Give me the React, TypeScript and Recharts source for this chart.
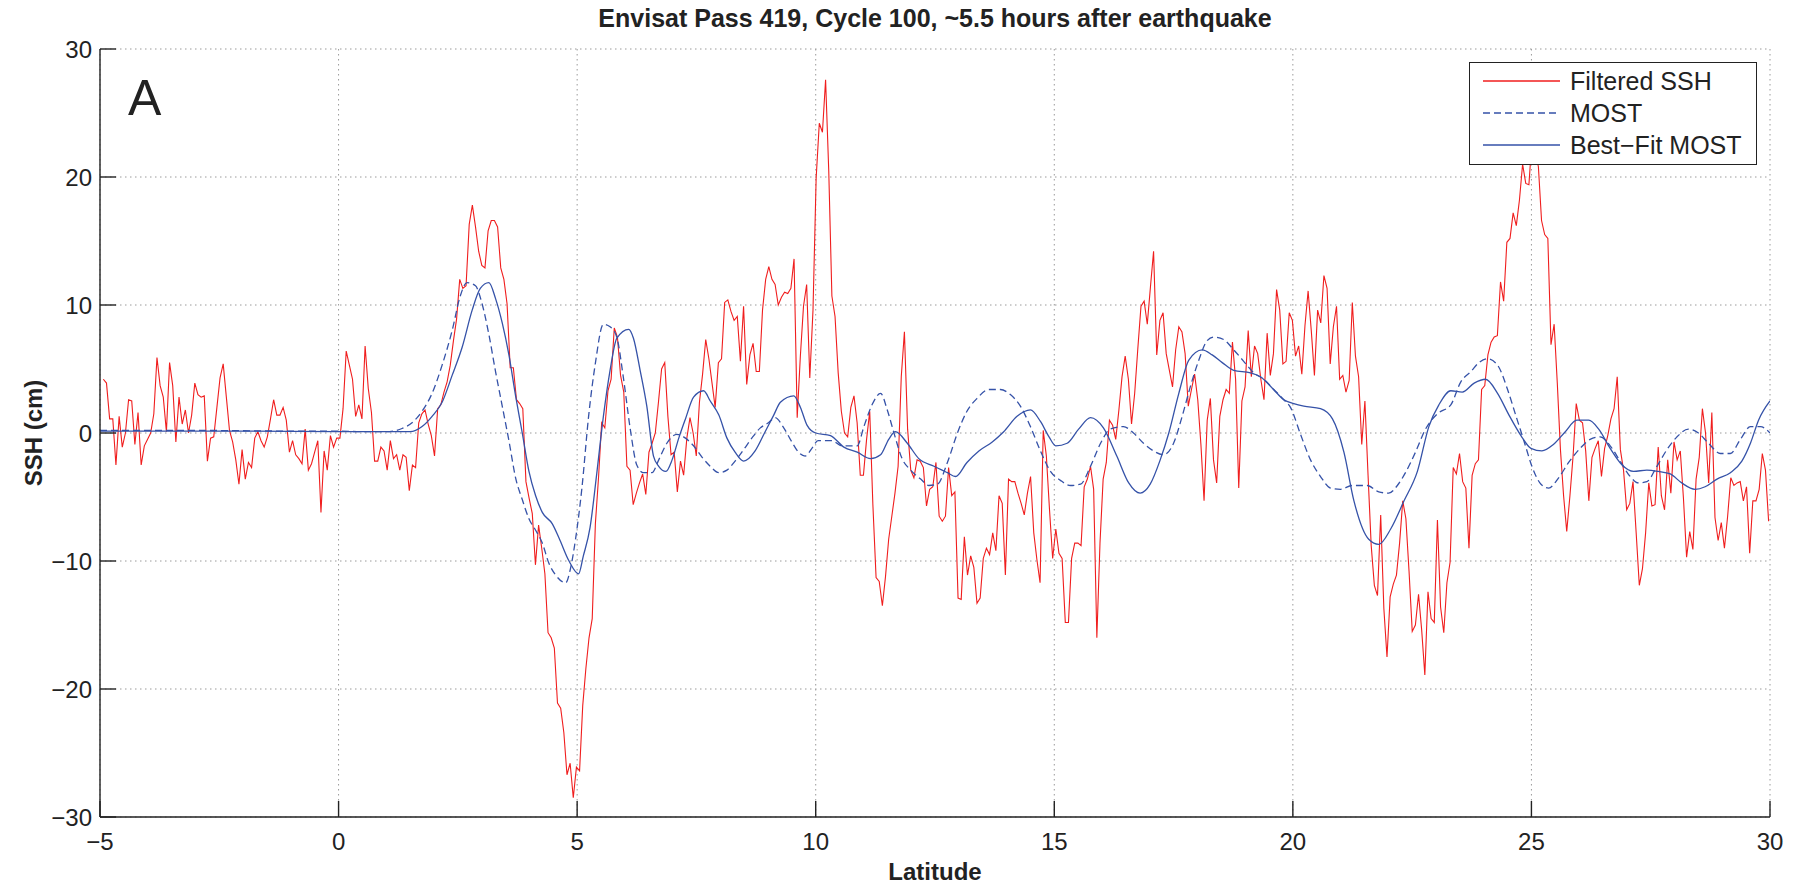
import { LineChart, Line, XAxis, YAxis, CartesianGrid, Legend } from 'recharts'

// along-track samples of the filtered SSH, evenly spaced in latitude
const SSH_START = -4.93
const SSH_STEP = 0.0661

const filteredSSH = [
  // -5 .. 0
  4.2, 3.9, 1.1, 1.1, -2.5, 1.3, -1.1, 0, 2.6, 2.5,
  -0.9, 1.6, -2.5, -1.0, -0.5, 0, 1.5, 5.9, 3.7, 2.8,
  0.1, 5.5, 3.7, -0.7, 2.8, 0.7, 1.8, 0, 1.4, 3.9,
  3.0, 2.8, 2.9, -2.2, -0.4, -0.3, 2.0, 4.3, 5.4, 2.8,
  0.2, -0.7, -2.1, -4.0, -1.3, -3.6, -2.3, -2.7, -0.4, 0.1,
  -0.6, -1.1, -0.3, 1.1, 2.6, 1.4, 1.4, 2.0, 1.0, -1.5,
  -0.6, -1.7, -2.0, -2.4, 0.3, -2.9, -2.4, -1.5, -0.6, -6.2,
  -1.4, -2.9, -0.2, -1.1, -0.4, -0.4,
  // 0 .. 5
  1.9, 6.4, 5.3, 4.2, 1.3, 2.2, 1.1, 6.8, 3.5, 1.6,
  -2.2, -2.2, -1.1, -1.4, -2.9, -0.6, -2.0, -1.7, -2.9, -1.7,
  -1.9, -4.5, -2.5, -2.7, 0.8, 1.5, 1.8, 0.7, -0.2, -1.8,
  1.9, 2.2, 3.2, 4.0, 5.3, 7.2, 8.9, 12.0, 11.3, 11.5,
  16.3, 17.8, 16.1, 14.2, 13.1, 12.9, 15.8, 16.6, 16.6, 16.1,
  12.9, 12.0, 10.1, 5.1, 5.1, 2.6, 2.3, 1.9, -3.8, -5.1,
  -6.3, -10.3, -7.2, -9.0, -11.0, -15.6, -16.0, -16.8, -21.1, -21.5,
  -23.4, -26.7, -25.8, -28.5, -26.1, -26.4, -21.3, -18.4,
  // 5 .. 10
  -16.0, -14.5, -7.1, -3.5, 0.8, 0.4, 3.3, 4.2, 8.2, 7.5,
  4.5, 3.2, -2.6, -2.9, -5.6, -4.7, -3.9, -3.2, -4.8, -1.5,
  -0.8, 0, 2.4, 5.0, 5.5, 1.3, -1.7, -1.5, -4.6, -2.2,
  -3.3, -0.4, 1.2, 0, -1.8, 2.4, 4.6, 7.3, 5.8, 3.9,
  2.0, 5.5, 5.8, 10.2, 10.4, 9.5, 8.8, 9.1, 5.6, 9.9,
  3.8, 6.1, 7.0, 4.8, 4.8, 9.6, 12.0, 13.0, 12.0, 11.6,
  10.0, 10.6, 11.0, 10.9, 11.3, 13.6, 1.2, 6.0, 9.9, 11.6,
  4.3, 9.6, 19.9, 24.2, 23.5, 27.6,
  // 10 .. 15
  20.5, 10.7, 9.1, 4.7, 1.7, 0, -0.3, 2.0, 2.9, 0.8,
  -3.3, -3.3, -0.5, 1.7, -5.6, -11.3, -11.6, -13.5, -11.2, -8.3,
  -6.5, -4.7, -2.6, 4.4, 7.9, 0.3, -2.9, -3.5, -2.1, -2.2,
  -2.7, -5.7, -4.4, -4.2, -2.3, -6.5, -6.9, -6.5, -2.7, -4.9,
  -4.6, -12.9, -13.0, -8.1, -11.1, -9.6, -10.5, -13.3, -12.9, -9.8,
  -9.0, -9.5, -7.8, -9.2, -4.9, -5.5, -11.1, -3.6, -3.8, -3.8,
  -4.7, -5.5, -6.4, -4.7, -3.4, -7.8, -9.9, -11.7, 0.2, -1.8,
  -6.0, -9.8, -7.5, -9.4,
  // 15 .. 20
  -9.8, -14.8, -14.8, -9.8, -8.6, -8.6, -8.8, -4.2, -3.6, -2.6,
  -4.4, -16.0, -8.6, -3.6, -2.3, 1.0, 0.6, -0.5, 1.8, 4.4,
  6.0, 4.2, 0.7, 3.1, 6.6, 9.9, 10.3, 8.5, 11.4, 14.2,
  6.1, 8.8, 9.4, 6.2, 4.9, 3.6, 6.5, 8.3, 7.9, 6.2,
  2.1, 3.4, 4.6, 2.6, -0.9, -5.3, 1.0, 2.7, -2.1, -3.9,
  1.3, 2.6, 3.4, 3.1, 7.1, 4.2, -4.3, 2.5, 3.6, 8.0,
  4.4, 6.8, 6.2, 4.2, 2.6, 7.8, 4.5, 6.2, 11.2, 9.6,
  5.4, 5.6, 9.4, 8.8, 6.0, 6.8,
  // 20 .. 25
  4.6, 8.4, 11.1, 8.0, 4.5, 9.6, 8.6, 12.3, 11.3, 5.4,
  8.3, 9.9, 4.2, 4.5, 3.2, 4.1, 10.2, 6.0, 4.4, -0.9,
  2.5, -3.3, -8.8, -11.9, -12.7, -6.4, -13.7, -17.5, -12.8, -11.8,
  -11.1, -8.6, -5.3, -6.7, -10.8, -15.5, -15.0, -12.6, -15.4, -18.9,
  -12.4, -14.5, -14.8, -6.8, -13.6, -15.6, -11.7, -10.1, -2.7, -3.2,
  -1.6, -3.8, -4.3, -9.0, -3.3, -2.4, -2.1, 3.4, 3.7, 6.1,
  7.1, 7.5, 7.6, 11.8, 10.3, 14.9, 15.2, 17.2, 16.2, 18.2,
  21.0, 19.5, 19.4,
  // 25 .. 30
  23.0, 22.0, 20.8, 16.6, 15.5, 15.2, 6.9, 8.5, 3.9, -1.3,
  -4.9, -7.7, -4.9, -1.8, 2.3, 1.0, 0.8, -1.4, -5.3, -1.9,
  -1.2, -0.6, -3.4, -1.2, -0.2, 1.1, 1.9, 4.4, -1.3, -2.9,
  -6.0, -5.5, -3.8, -7.8, -11.9, -10.6, -7.8, -3.9, -5.7, -5.6,
  -1.1, -4.9, -6.0, -2.1, -4.7, -0.7, -2.1, -1.4, -5.1, -9.7,
  -7.7, -9.1, -3.6, -1.9, 1.9, 0, -3.9, 1.6, -6.6, -8.4,
  -7.0, -9.0, -6.5, -3.5, -4.1, -3.9, -3.8, -5.3, -4.2, -9.4,
  -5.3, -5.3, -4.4, -1.6, -2.9, -6.9
]

// [latitude, cm]
const most: [number, number][] = [
  [-5, 0.2], [-3, 0.2], [-1, 0.15], [0, 0.15], [0.5, 0.1], [1.0, 0.1],
  [1.33, 0.35], [1.54, 0.8], [1.75, 1.7], [1.96, 3.1], [2.17, 5.3], [2.38, 8.0],
  [2.55, 10.7], [2.69, 11.75], [2.87, 11.5], [3.0, 10.2], [3.15, 7.7], [3.29, 4.8],
  [3.43, 2.1], [3.57, -0.6], [3.71, -3.5], [3.85, -5.2], [3.99, -6.7], [4.13, -7.6],
  [4.27, -8.6], [4.41, -10.2], [4.55, -11.1], [4.76, -11.7], [4.86, -10.6], [4.97, -8.2],
  [5.1, -4.3], [5.24, 1.3], [5.38, 5.4], [5.55, 8.5], [5.69, 8.3], [5.83, 7.5],
  [5.97, 4.3], [6.11, 0.4], [6.25, -2.5], [6.39, -3.1], [6.57, -3.1], [6.71, -2.1],
  [6.88, -0.8], [7.09, -0.1], [7.27, -0.4], [7.44, -1.0], [7.62, -1.9], [7.79, -2.6],
  [7.97, -3.1], [8.14, -2.9], [8.31, -2.2], [8.49, -1.3], [8.66, -0.4], [8.84, 0.4],
  [9.01, 0.8], [9.15, 1.2], [9.33, 0.4], [9.5, -0.7], [9.64, -1.5], [9.78, -1.8],
  [9.92, -1.2], [10.05, -0.6], [10.34, -0.6], [10.55, -1.0], [10.73, -1.0], [10.87, -1.0],
  [11.01, 0.5], [11.18, 2.2], [11.36, 3.1], [11.5, 1.8], [11.64, 0], [11.81, -2.0],
  [11.99, -2.9], [12.2, -3.6], [12.37, -4.1], [12.55, -4.0], [12.76, -2.3], [12.97, 0],
  [13.17, 1.7], [13.38, 2.7], [13.63, 3.4], [13.87, 3.4], [14.08, 3.0], [14.29, 2.1],
  [14.5, 0.5], [14.71, -1.4], [14.92, -3.0], [15.13, -3.7], [15.34, -4.1], [15.55, -4.0],
  [15.76, -2.6], [15.97, -0.8], [16.17, 0.3], [16.45, 0.5], [16.66, 0], [16.87, -0.8],
  [17.08, -1.4], [17.29, -1.7], [17.5, -0.8], [17.68, 1.3], [17.85, 3.6], [18.03, 5.7],
  [18.2, 7.2], [18.34, 7.5], [18.55, 7.3], [18.76, 6.5], [18.97, 5.6], [19.18, 4.7],
  [19.39, 4.2], [19.6, 3.4], [19.81, 2.6], [19.95, 2.0], [20.16, -0.1], [20.37, -2.1],
  [20.58, -3.4], [20.79, -4.3], [21.0, -4.4], [21.24, -4.1], [21.56, -4.1], [21.8, -4.6],
  [22.01, -4.7], [22.19, -4.1], [22.36, -3.1], [22.57, -1.5], [22.78, 0.3], [23.03, 1.5],
  [23.31, 2.2], [23.52, 4.0], [23.73, 4.8], [23.9, 5.5], [24.08, 5.8], [24.29, 5.3],
  [24.5, 3.4], [24.67, 1.4], [24.85, -0.7], [25.02, -2.7], [25.2, -4.0], [25.36, -4.3],
  [25.57, -3.5], [25.78, -2.3], [26.02, -1.2], [26.23, -0.5], [26.44, -0.3], [26.65, -1.0],
  [26.86, -2.2], [27.07, -3.4], [27.24, -3.9], [27.42, -3.8], [27.63, -2.6], [27.84, -1.3],
  [28.05, -0.3], [28.29, 0.3], [28.5, 0], [28.71, -0.8], [28.96, -1.6], [29.17, -1.6],
  [29.38, -0.5], [29.59, 0.5], [29.8, 0.5], [30, 0]
]

const bestFitMost: [number, number][] = [
  [-5, 0.15], [-2, 0.15], [0, 0.1], [1.0, 0.1], [1.5, 0.1], [1.75, 0.5],
  [1.96, 1.3], [2.17, 2.4], [2.38, 4.5], [2.59, 6.7], [2.8, 9.6], [2.97, 11.3],
  [3.15, 11.75], [3.29, 10.5], [3.43, 8.6], [3.57, 6.1], [3.71, 2.9], [3.85, 0],
  [3.99, -3.0], [4.13, -4.9], [4.27, -6.2], [4.48, -7.1], [4.62, -8.2], [4.83, -10.0],
  [5.03, -11.0], [5.13, -9.6], [5.27, -7.4], [5.41, -3.2], [5.55, 1.3], [5.69, 4.9],
  [5.83, 7.4], [6.08, 8.1], [6.18, 7.4], [6.32, 4.9], [6.46, 2.1], [6.6, -1.8],
  [6.71, -2.6], [6.86, -3.0], [6.99, -2.1], [7.13, -0.4], [7.27, 1.1], [7.44, 2.8],
  [7.65, 3.3], [7.79, 2.5], [7.97, 1.4], [8.14, -0.4], [8.31, -1.5], [8.49, -2.2],
  [8.73, -1.4], [8.94, 0.1], [9.12, 1.4], [9.26, 2.4], [9.54, 2.9], [9.68, 2.0],
  [9.82, 0.6], [10.0, 0], [10.31, -0.2], [10.59, -1.1], [10.87, -1.5], [11.15, -2.0],
  [11.36, -1.7], [11.53, -0.5], [11.67, 0.1], [11.92, -0.8], [12.16, -2.0], [12.48, -2.6],
  [12.76, -3.1], [12.93, -3.4], [13.17, -2.3], [13.42, -1.4], [13.7, -0.7], [13.94, 0.1],
  [14.22, 1.3], [14.5, 1.8], [14.71, 0.9], [14.89, -0.3], [15.03, -1.0], [15.27, -0.8],
  [15.51, 0.3], [15.76, 1.2], [16.03, 0.4], [16.31, -1.8], [16.56, -3.9], [16.8, -4.7],
  [17.01, -4.0], [17.22, -2.1], [17.4, 0], [17.61, 3.1], [17.82, 5.7], [18.1, 6.5],
  [18.31, 6.1], [18.52, 5.5], [18.76, 4.9], [19.11, 4.7], [19.32, 4.4], [19.57, 3.5],
  [19.81, 2.6], [20.02, 2.3], [20.23, 2.1], [20.58, 1.9], [20.83, 1.1], [21.07, -1.5],
  [21.28, -5.3], [21.59, -8.3], [21.8, -8.7], [22.05, -7.5], [22.33, -5.3], [22.61, -3.0],
  [22.85, 0.5], [23.06, 2.2], [23.31, 3.3], [23.55, 3.2], [23.8, 3.9], [24.04, 4.2],
  [24.29, 3.1], [24.53, 1.4], [24.78, -0.2], [24.99, -1.2], [25.22, -1.4], [25.46, -0.9],
  [25.71, 0.1], [25.95, 1.0], [26.2, 1.0], [26.41, 0.3], [26.65, -1.2], [26.9, -2.5],
  [27.14, -3.0], [27.42, -2.9], [27.66, -3.0], [27.91, -3.2], [28.15, -3.9], [28.43, -4.4],
  [28.64, -4.2], [28.89, -3.6], [29.17, -3.1], [29.41, -2.2], [29.59, -0.8], [29.76, 1.0],
  [30, 2.5]
]

const latTicks = [-5, 0, 5, 10, 15, 20, 25, 30]
const sshTicks = [-30, -20, -10, 0, 10, 20, 30]

const FONT = "'Liberation Sans', Arial, Helvetica, sans-serif"
const INK = '#222'

const series = [
  { key: 'ssh', name: 'Filtered SSH', color: '#f01e1e', dash: undefined, width: 1.1 },
  { key: 'most', name: 'MOST', color: '#3552a8', dash: '7 4', width: 1.3 },
  { key: 'fit', name: 'Best\u2212Fit MOST', color: '#3552a8', dash: undefined, width: 1.3 }
]

const sshData = filteredSSH.map((v, i) => ({ lat: +(SSH_START + i * SSH_STEP).toFixed(3), v }))
const mostData = most.map(([lat, v]) => ({ lat, v }))
const fitData = bestFitMost.map(([lat, v]) => ({ lat, v }))

const fmt = (v: number) => (v < 0 ? `\u2212${-v}` : `${v}`)
const blank = () => ''

const LegendBox = () => (
  <div
    style={{
      width: 288,
      height: 103,
      boxSizing: 'border-box',
      border: `1.5px solid ${INK}`,
      background: '#fff',
      paddingTop: 2
    }}
  >
    {series.map(s => (
      <div key={s.key} style={{ display: 'flex', alignItems: 'center', height: 32 }}>
        <svg width={92} height={10} style={{ display: 'block' }}>
          <line
            x1={13}
            x2={90}
            y1={5}
            y2={5}
            stroke={s.color}
            strokeWidth={1.3}
            strokeDasharray={s.dash}
          />
        </svg>
        <span
          style={{
            marginLeft: 8,
            fontSize: 25,
            lineHeight: 1,
            fontFamily: FONT,
            color: INK
          }}
        >
          {s.name}
        </span>
      </div>
    ))}
  </div>
)

const App = () => {
  const tick = { fontSize: 24, fill: INK, fontFamily: FONT }
  const axisLine = { stroke: INK, strokeWidth: 1.4 }

  return (
    <div style={{ position: 'fixed', left: 0, top: 0, width: 1802, height: 887, background: '#fff' }}>
      <LineChart
        width={1802}
        height={887}
        margin={{ top: 49, right: 32, bottom: 0, left: 0 }}
      >
        <CartesianGrid stroke='#9a9a9a' strokeDasharray='1.5 3.5' />
        <XAxis
          dataKey='lat'
          type='number'
          domain={[-5, 30]}
          ticks={latTicks}
          allowDataOverflow
          height={70}
          tickSize={-16}
          tickMargin={32}
          tick={tick}
          tickFormatter={fmt}
          axisLine={axisLine}
          tickLine={axisLine}
        />
        <XAxis
          xAxisId='top'
          orientation='top'
          dataKey='lat'
          type='number'
          domain={[-5, 30]}
          ticks={latTicks}
          height={0}
          tickSize={-16}
          tick={tick}
          tickFormatter={blank}
          axisLine={axisLine}
          tickLine={axisLine}
        />
        <YAxis
          type='number'
          domain={[-30, 30]}
          ticks={sshTicks}
          allowDataOverflow
          width={100}
          tickSize={-16}
          tickMargin={24}
          tick={tick}
          tickFormatter={fmt}
          axisLine={axisLine}
          tickLine={axisLine}
        />
        <YAxis
          yAxisId='right'
          orientation='right'
          type='number'
          domain={[-30, 30]}
          ticks={sshTicks}
          width={0}
          tickSize={-16}
          tick={tick}
          tickFormatter={blank}
          axisLine={axisLine}
          tickLine={axisLine}
        />
        <Line
          data={sshData}
          dataKey='v'
          name={series[0].name}
          type='linear'
          stroke={series[0].color}
          strokeWidth={series[0].width}
          dot={false}
          activeDot={false}
          isAnimationActive={false}
        />
        <Line
          data={mostData}
          dataKey='v'
          name={series[1].name}
          type='monotone'
          stroke={series[1].color}
          strokeWidth={series[1].width}
          strokeDasharray={series[1].dash}
          dot={false}
          activeDot={false}
          isAnimationActive={false}
        />
        <Line
          data={fitData}
          dataKey='v'
          name={series[2].name}
          type='monotone'
          stroke={series[2].color}
          strokeWidth={series[2].width}
          dot={false}
          activeDot={false}
          isAnimationActive={false}
        />
        <Legend
          layout='vertical'
          align='center'
          verticalAlign='middle'
          content={() => <LegendBox />}
          wrapperStyle={{ position: 'absolute', left: 1469, top: 62, width: 288, height: 103, right: 'auto', bottom: 'auto' }}
        />
      </LineChart>

      <div
        style={{
          position: 'absolute', left: 935, top: 6, transform: 'translateX(-50%)',
          fontFamily: FONT, fontWeight: 'bold', fontSize: 25, lineHeight: 1, color: INK, whiteSpace: 'nowrap'
        }}
      >
        Envisat Pass 419, Cycle 100, ~5.5 hours after earthquake
      </div>
      <div
        style={{
          position: 'absolute', left: 128, top: 73,
          fontFamily: FONT, fontSize: 50, lineHeight: 1, color: INK
        }}
      >
        A
      </div>
      <div
        style={{
          position: 'absolute', left: 935, top: 860, transform: 'translateX(-50%)',
          fontFamily: FONT, fontWeight: 'bold', fontSize: 24, lineHeight: 1, color: INK, whiteSpace: 'nowrap'
        }}
      >
        Latitude
      </div>
      <div
        style={{
          position: 'absolute', left: 34, top: 433, transform: 'translate(-50%, -50%) rotate(-90deg)',
          fontFamily: FONT, fontWeight: 'bold', fontSize: 24, lineHeight: 1, color: INK, whiteSpace: 'nowrap'
        }}
      >
        SSH (cm)
      </div>
    </div>
  )
}

export default App
